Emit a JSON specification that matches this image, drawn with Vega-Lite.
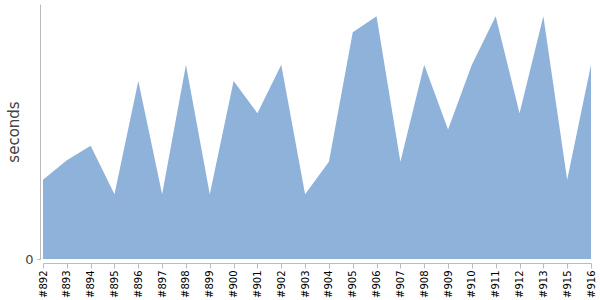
{
  "$schema": "https://vega.github.io/schema/vega-lite/v6.json",
  "width": 548,
  "height": 255,
  "autosize": "none",
  "padding": {"left": 43, "top": 4, "right": 9, "bottom": 41},
  "background": "white",
  "config": {"view": {"stroke": null}},
  "data": {"values": [
    {"build": "#892", "seconds": 4.9},
    {"build": "#893", "seconds": 6.1},
    {"build": "#894", "seconds": 7},
    {"build": "#895", "seconds": 4},
    {"build": "#896", "seconds": 11},
    {"build": "#897", "seconds": 4},
    {"build": "#898", "seconds": 12},
    {"build": "#899", "seconds": 4},
    {"build": "#900", "seconds": 11},
    {"build": "#901", "seconds": 9},
    {"build": "#902", "seconds": 12},
    {"build": "#903", "seconds": 4},
    {"build": "#904", "seconds": 6},
    {"build": "#905", "seconds": 14},
    {"build": "#906", "seconds": 15},
    {"build": "#907", "seconds": 6},
    {"build": "#908", "seconds": 12},
    {"build": "#909", "seconds": 8},
    {"build": "#910", "seconds": 12},
    {"build": "#911", "seconds": 15},
    {"build": "#912", "seconds": 9},
    {"build": "#913", "seconds": 15},
    {"build": "#915", "seconds": 4.9},
    {"build": "#916", "seconds": 12}
  ]},
  "mark": {"type": "area", "color": "#8fb2da", "opacity": 1},
  "encoding": {
    "x": {
      "field": "build", "type": "ordinal", "sort": null,
      "scale": {"type": "point", "padding": 0},
      "axis": {
        "title": null, "labelAngle": -90, "labelFontSize": 10, "labelColor": "#000",
        "labelFont": "DejaVu Sans", "offset": 4, "domainColor": "#bbb", "tickColor": "#bbb",
        "tickSize": 5, "labelPadding": 2, "labelAlign": "right", "labelBaseline": "middle"
      }
    },
    "y": {
      "field": "seconds", "type": "quantitative",
      "scale": {"domain": [0, 15.75], "nice": false},
      "axis": {
        "title": "seconds", "titleFontSize": 15, "titleFontWeight": "normal", "titleColor": "#444",
        "titleFont": "DejaVu Sans", "titlePadding": 3,
        "values": [0], "grid": false, "offset": 3, "domainColor": "#bbb", "tickColor": "#bbb",
        "tickSize": 3, "labelFontSize": 13, "labelColor": "#444", "labelFont": "DejaVu Sans", "labelPadding": 4
      }
    }
  }
}
